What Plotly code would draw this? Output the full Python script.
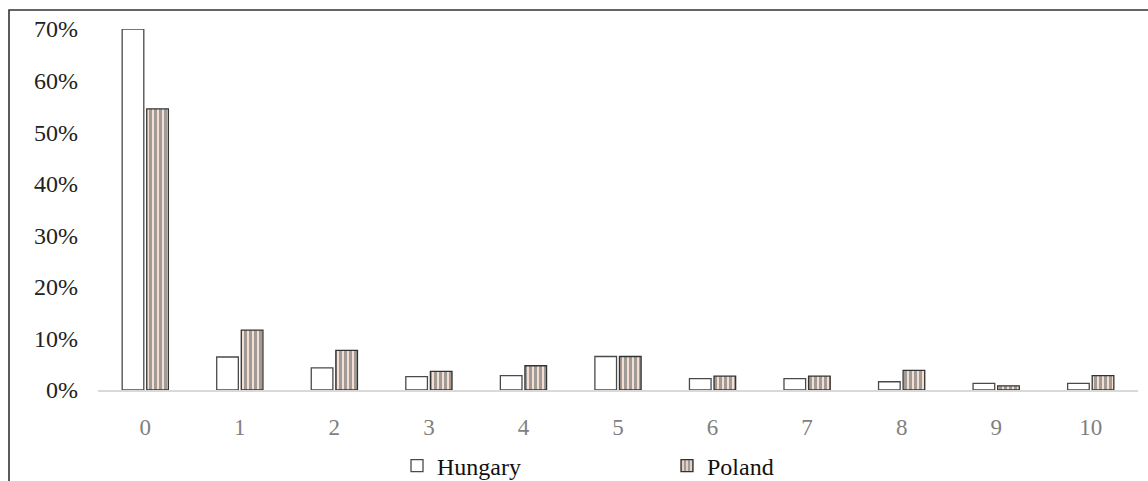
import plotly.graph_objects as go

# Number of items (0-10) and the share of respondents in each country
categories = ["0", "1", "2", "3", "4", "5", "6", "7", "8", "9", "10"]
hungary = [0.700, 0.064, 0.043, 0.026, 0.028, 0.065, 0.022, 0.022, 0.016, 0.013, 0.013]
poland = [0.545, 0.116, 0.077, 0.036, 0.047, 0.065, 0.027, 0.027, 0.038, 0.008, 0.028]
y_ticks = [0.0, 0.1, 0.2, 0.3, 0.4, 0.5, 0.6, 0.7]

W, H = 1148, 481
ML, MR, MT, MB = 98, 10, 29, 91
PW, PH = W - ML - MR, H - MT - MB

SERIF = "Liberation Serif"

fig = go.Figure()
fig.add_trace(go.Bar(
    name="Hungary", x=categories, y=hungary,
    marker=dict(color="white", line=dict(color="#4a4a4a", width=1.3)),
))
fig.add_trace(go.Bar(
    name="Poland", x=categories, y=poland,
    marker=dict(
        color="#fbe0d4",
        line=dict(color="#333333", width=1.3),
        pattern=dict(shape="|", fgcolor="#44575b", bgcolor="#fbe0d4",
                     size=5, solidity=0.62),
    ),
))

# outer frame of the chart
fig.add_shape(
    type="rect", xref="paper", yref="paper",
    x0=(9 - ML) / PW, x1=1.2,
    y0=-0.6, y1=1 + (MT - 10) / PH,
    line=dict(color="#333333", width=1.6), fillcolor="rgba(0,0,0,0)",
    layer="above",
)

fig.update_layout(
    width=W, height=H,
    margin=dict(l=ML, r=MR, t=MT, b=MB, pad=0, autoexpand=False),
    paper_bgcolor="white", plot_bgcolor="white",
    barmode="group", bargap=0.48, bargroupgap=0.12,
    font=dict(family=SERIF, color="#222222"),
    showlegend=True,
    legend=dict(
        orientation="h",
        x=(397 - ML) / PW, xanchor="left",
        y=-(466 - (MT + PH)) / PH, yanchor="middle",
        entrywidth=225, entrywidthmode="pixels",
        font=dict(family=SERIF, size=24, color="#111111"),
        itemwidth=30, traceorder="normal",
        bgcolor="rgba(0,0,0,0)",
    ),
)
fig.update_xaxes(
    type="category", showgrid=False, zeroline=False,
    showline=True, linecolor="#d9d9d9", linewidth=1.5,
    ticks="", ticklabelstandoff=16,
    tickfont=dict(family=SERIF, size=23, color="#7f7f7f"),
)
fig.update_yaxes(
    range=[0, 0.70], tickvals=y_ticks, tickformat=".0%",
    showgrid=False, zeroline=False, showline=False,
    ticks="", ticklabelstandoff=19,
    tickfont=dict(family=SERIF, size=24, color="#222222"),
)

fig.write_html("out.html")
